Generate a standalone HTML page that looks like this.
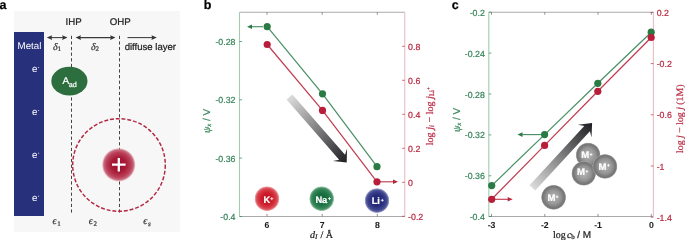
<!DOCTYPE html>
<html><head><meta charset="utf-8">
<style>
html,body{margin:0;padding:0;background:#fff;width:685px;height:240px;overflow:hidden}
svg{display:block;position:absolute;left:0;top:0;will-change:transform}
text{font-family:"Liberation Sans",sans-serif;text-rendering:geometricPrecision;stroke-width:0.22px}
.xt text{stroke-width:0.05px}
.serif{font-family:"Liberation Serif",serif}
</style></head>
<body>
<svg width="685" height="240" viewBox="0 0 685 240">
<defs>
  <radialGradient id="gK" cx="50%" cy="50%" r="50%"><stop offset="0" stop-color="#c40f1e" stop-opacity="1"/><stop offset="0.45" stop-color="#cc1c2a" stop-opacity="1"/><stop offset="0.72" stop-color="#d63a45" stop-opacity="1"/><stop offset="0.86" stop-color="#de5a63" stop-opacity="1"/><stop offset="0.95" stop-color="#ea9096" stop-opacity="0.8"/><stop offset="1" stop-color="#f6c8ca" stop-opacity="0.2"/></radialGradient>
<radialGradient id="gNa" cx="50%" cy="50%" r="50%"><stop offset="0" stop-color="#116638" stop-opacity="1"/><stop offset="0.45" stop-color="#1a7041" stop-opacity="1"/><stop offset="0.72" stop-color="#2f8253" stop-opacity="1"/><stop offset="0.86" stop-color="#4b946a" stop-opacity="1"/><stop offset="0.95" stop-color="#86b99a" stop-opacity="0.8"/><stop offset="1" stop-color="#c8e0d0" stop-opacity="0.2"/></radialGradient>
<radialGradient id="gLi" cx="50%" cy="50%" r="50%"><stop offset="0" stop-color="#1e2370" stop-opacity="1"/><stop offset="0.45" stop-color="#262c7a" stop-opacity="1"/><stop offset="0.72" stop-color="#3b418a" stop-opacity="1"/><stop offset="0.86" stop-color="#565c9e" stop-opacity="1"/><stop offset="0.95" stop-color="#9094c2" stop-opacity="0.8"/><stop offset="1" stop-color="#d0d2e6" stop-opacity="0.2"/></radialGradient>
<radialGradient id="gM" cx="50%" cy="50%" r="50%"><stop offset="0" stop-color="#b2b2b2" stop-opacity="1"/><stop offset="0.3" stop-color="#a7a7a7" stop-opacity="1"/><stop offset="0.6" stop-color="#929292" stop-opacity="1"/><stop offset="0.8" stop-color="#7a7a7a" stop-opacity="1"/><stop offset="0.9" stop-color="#777777" stop-opacity="1"/><stop offset="0.96" stop-color="#999999" stop-opacity="0.8"/><stop offset="1" stop-color="#d0d0d0" stop-opacity="0.3"/></radialGradient>
  <radialGradient id="gC" cx="50%" cy="50%" r="50%">
    <stop offset="0" stop-color="#9c0a28"/>
    <stop offset="0.45" stop-color="#a81c38"/>
    <stop offset="0.75" stop-color="#b94058"/>
    <stop offset="0.9" stop-color="#c96a7e"/>
    <stop offset="1" stop-color="#e2a8b4" stop-opacity="0.5"/>
  </radialGradient>
  <linearGradient id="arrB" gradientUnits="userSpaceOnUse" x1="289" y1="97" x2="347" y2="163">
    <stop offset="0" stop-color="#dcdcdc"/>
    <stop offset="1" stop-color="#1e1e22"/>
  </linearGradient>
  <linearGradient id="arrC" gradientUnits="userSpaceOnUse" x1="532" y1="188" x2="592" y2="123">
    <stop offset="0" stop-color="#dcdcdc"/>
    <stop offset="1" stop-color="#1e1e22"/>
  </linearGradient>
</defs>

<!-- ============ PANEL A ============ -->
<text x="-0.5" y="8.8" font-size="12.5" font-weight="bold" fill="#000" stroke="#000">a</text>
<rect x="14" y="11" width="166" height="221" fill="#f7f7f7"/>
<rect x="14" y="32" width="30" height="184" fill="#27307b"/>
<text x="17.6" y="48.5" font-size="9.7" fill="#fff" stroke="none">Metal</text>
<g font-size="9.7" fill="#fff" stroke="none">
  <text x="31.9" y="72.15" stroke="none">e</text><rect x="38.0" y="66.95" width="1.1" height="0.8" fill="#fff" opacity="0.85"/>
  <text x="31.9" y="115.30" stroke="none">e</text><rect x="38.0" y="110.10" width="1.1" height="0.8" fill="#fff" opacity="0.85"/>
  <text x="31.9" y="158.00" stroke="none">e</text><rect x="38.0" y="152.80" width="1.1" height="0.8" fill="#fff" opacity="0.85"/>
  <text x="31.9" y="201.00" stroke="none">e</text><rect x="38.0" y="195.80" width="1.1" height="0.8" fill="#fff" opacity="0.85"/>
</g>
<text x="65.6" y="24.6" font-size="9.7" fill="#222" stroke="#222">IHP</text>
<text x="109.8" y="24.6" font-size="9.7" fill="#222" stroke="#222">OHP</text>
<text x="124.7" y="49.7" font-size="9.55" fill="#222" stroke="#222">diffuse layer</text>
<!-- arrows -->
<g stroke="#3a3a3a" stroke-width="1.05"><line x1="49" y1="37.6" x2="65.5" y2="37.6"/><line x1="78" y1="37.6" x2="113" y2="37.6"/><line x1="127.5" y1="37.6" x2="154" y2="37.6"/></g>
<path d="M46.8 37.6 L52.20 35.15 L51.40 37.6 L52.20 40.05 Z" fill="#333"/>
<path d="M67.5 37.6 L62.10 35.15 L62.90 37.6 L62.10 40.05 Z" fill="#333"/>
<path d="M75.6 37.6 L81.00 35.15 L80.20 37.6 L81.00 40.05 Z" fill="#333"/>
<path d="M115.5 37.6 L110.10 35.15 L110.90 37.6 L110.10 40.05 Z" fill="#333"/>
<path d="M156.8 37.6 L151.40 35.15 L152.20 37.6 L151.40 40.05 Z" fill="#333"/>
<!-- dashed lines -->
<g stroke="#444" stroke-width="1" stroke-dasharray="3.2 2.4">
  <line x1="71.5" y1="35.8" x2="71.5" y2="215"/>
  <line x1="119.5" y1="35.8" x2="119.5" y2="215"/>
</g>
<!-- A_ad -->
<ellipse cx="69.4" cy="81.1" rx="18.1" ry="14.4" fill="#2d6e3e"/>
<text x="62.6" y="84.4" font-size="10" fill="#fff" stroke="#fff">A</text>
<text x="68.8" y="86.5" font-size="7.2" fill="#fff" stroke="#fff">ad</text>
<!-- cation -->
<circle cx="119" cy="165" r="46.3" fill="none" stroke="#b32540" stroke-width="1.45" stroke-dasharray="3.9 1.9"/>
<circle cx="118.7" cy="164.8" r="16.6" fill="url(#gC)"/>
<path d="M112 164.7 H125.6 M118.8 158 V171.6" stroke="#fff" stroke-width="2.3"/>
<g font-size="10" fill="#333" class="serif" font-style="italic" stroke="#333">
  <text x="52.5" y="223.6" class="serif">ϵ</text><text x="57.2" y="225.5" font-size="7" font-style="normal" class="serif">1</text>
  <text x="88.8" y="223.6" class="serif">ϵ</text><text x="93.5" y="225.5" font-size="7" font-style="normal" class="serif">2</text>
  <text x="143.2" y="223.6" class="serif">ϵ</text><text x="147.9" y="225.5" font-size="7" class="serif">s</text>
</g>
<text x="53" y="49.8" font-size="10" fill="#333" class="serif" font-style="italic" stroke="#333">δ</text><text x="57.5" y="51" font-size="7" fill="#333" class="serif" stroke="#333">1</text>
<text x="91" y="49.8" font-size="10" fill="#333" class="serif" font-style="italic" stroke="#333">δ</text><text x="95.5" y="51" font-size="7" fill="#333" class="serif" stroke="#333">2</text>

<!-- ============ PANEL B ============ -->
<text x="203.8" y="9" font-size="12.5" font-weight="bold" fill="#000" stroke="#000">b</text>
<line x1="239.5" y1="12.2" x2="404.8" y2="12.2" stroke="#aaaaaa" stroke-width="1.1"/>
<line x1="239.5" y1="216.5" x2="404.8" y2="216.5" stroke="#aaaaaa" stroke-width="1.1"/>
<line x1="239.5" y1="12.2" x2="239.5" y2="216.5" stroke="#a2cbb0" stroke-width="1.1"/>
<line x1="404.8" y1="12.2" x2="404.8" y2="216.5" stroke="#eabcc5" stroke-width="1.1"/>
<path d="M267 12.2v2.6M267 216.5v-2.6M322.2 12.2v2.6M322.2 216.5v-2.6M377.3 12.2v2.6M377.3 216.5v-2.6" stroke="#666" stroke-width="0.7"/>
<path d="M239.5 41.5h2.6M239.5 99.8h2.6M239.5 158.1h2.6M239.5 216.5h2.6" stroke="#38855a" stroke-width="0.7"/>
<path d="M404.8 46.3h-2.6M404.8 80.3h-2.6M404.8 114.3h-2.6M404.8 148.3h-2.6M404.8 182.3h-2.6M404.8 216.3h-2.6" stroke="#bb2b44" stroke-width="0.7"/>
<g font-size="8.8" fill="#38855a" text-anchor="end" stroke="#38855a">
<text x="235.5" y="45.05">-0.28</text>
<text x="235.5" y="103.35">-0.32</text>
<text x="235.5" y="161.65">-0.36</text>
<text x="235.5" y="220.05">-0.4</text>
</g>
<g font-size="8.8" fill="#bb2b44" stroke="#bb2b44">
<text x="408.1" y="49.85">0.8</text>
<text x="408.1" y="83.85">0.6</text>
<text x="408.1" y="117.85">0.4</text>
<text x="408.1" y="151.85">0.2</text>
<text x="408.1" y="185.85">0</text>
<text x="408.1" y="219.85">-0.2</text>
</g>
<g font-size="8.7" fill="#1a1a1a" text-anchor="middle" font-weight="bold" stroke="#1a1a1a" class="xt">
<text x="267" y="228.4">6</text>
<text x="322.2" y="228.4">7</text>
<text x="377.3" y="228.4">8</text>
</g>
<!-- axis titles -->
<g transform="translate(210.1,120.9) rotate(-90)"><text x="0" y="0" font-size="10" fill="#38855a" text-anchor="middle" stroke="#38855a"><tspan class="serif" font-style="italic">ψ</tspan><tspan font-size="6.80" dy="1.20" class="serif" font-style="italic">x</tspan><tspan dy="-1.20"> / V</tspan></text></g>
<g transform="translate(432.6,116.2) rotate(-90)"><text x="0" y="0" font-size="10.1" fill="#bb2b44" text-anchor="middle" class="serif" stroke="#bb2b44">log <tspan font-style="italic">j</tspan><tspan font-size="6.87" dy="1.51" font-style="italic">i</tspan><tspan dy="-1.51"> − log </tspan><tspan font-style="italic">j</tspan><tspan font-size="6.87" dy="1.51">Li</tspan><tspan font-size="5.05" dy="-4.54">+</tspan></text></g>
<text x="310.1" y="237.6" font-size="10" fill="#222" class="serif" stroke="#222"><tspan font-style="italic">d</tspan><tspan font-size="7" dy="1.8" font-style="italic">I</tspan><tspan dy="-1.8" dx="0.6"> / Å</tspan></text>
<!-- gradient arrow -->
<path d="M286.51 99.52 L339.16 159.79 L332.77 160.99 L346.70 162.50 L347.08 148.49 L345.03 154.66 L292.39 94.38 Z" fill="url(#arrB)"/>
<!-- lines -->
<polyline points="267.2,26.7 322.5,93.8 377,166.7" fill="none" stroke="#4a9166" stroke-width="1.25"/>
<polyline points="267.2,44.5 322.5,110.4 377,181.8" fill="none" stroke="#c13e52" stroke-width="1.25"/>
<line x1="263" y1="26.7" x2="251" y2="26.7" stroke="#4a9166" stroke-width="1.15"/>
<path d="M247 26.7 L252 24.4 L252 29 Z" fill="#2e7b47"/>
<line x1="380" y1="181.8" x2="394" y2="181.8" stroke="#c13e52" stroke-width="1.15"/>
<path d="M398 181.8 L393 179.5 L393 184.1 Z" fill="#b4283c"/>
<g fill="#2a7a44">
  <circle cx="267.2" cy="26.7" r="3.6"/>
  <circle cx="322.5" cy="93.8" r="3.6"/>
  <circle cx="377" cy="166.7" r="3.6"/>
</g>
<g fill="#b81e3a">
  <circle cx="267.2" cy="44.5" r="3.6"/>
  <circle cx="322.5" cy="110.4" r="3.6"/>
  <circle cx="377" cy="181.8" r="3.6"/>
</g>
<circle cx="267" cy="198.7" r="12.6" fill="url(#gK)"/><text x="263.5" y="202.75" font-size="9.3" font-weight="bold" fill="#fff" stroke="#fff">K</text><path d="M270.25 198.7H273.35M271.8 197.15V200.25" stroke="#fff" stroke-width="0.85" opacity="0.95"/>
<circle cx="321.7" cy="198.7" r="12.6" fill="url(#gNa)"/><text x="315.4" y="202.75" font-size="9.3" font-weight="bold" fill="#fff" stroke="#fff">Na</text><path d="M328.05 198.6H330.95M329.5 197.15V200.05" stroke="#fff" stroke-width="0.85" opacity="0.95"/>
<circle cx="377" cy="200.6" r="12.6" fill="url(#gLi)"/><text x="371.7" y="204.4" font-size="9.3" font-weight="bold" fill="#fff" stroke="#fff">Li</text><path d="M380.80 200.3H383.80M382.3 198.80V201.80" stroke="#fff" stroke-width="0.85" opacity="0.95"/>
<!-- ============ PANEL C ============ -->
<text x="451.7" y="9.3" font-size="12.5" font-weight="bold" fill="#000" stroke="#000">c</text>
<line x1="488.8" y1="12.2" x2="653.4" y2="12.2" stroke="#aaaaaa" stroke-width="1.1"/>
<line x1="488.8" y1="216.5" x2="653.4" y2="216.5" stroke="#aaaaaa" stroke-width="1.1"/>
<line x1="488.8" y1="12.2" x2="488.8" y2="216.5" stroke="#a2cbb0" stroke-width="1.1"/>
<line x1="653.4" y1="12.2" x2="653.4" y2="216.5" stroke="#eabcc5" stroke-width="1.1"/>
<path d="M491.5 12.2v2.6M491.5 216.5v-2.6M544.8 12.2v2.6M544.8 216.5v-2.6M598 12.2v2.6M598 216.5v-2.6M651.3 12.2v2.6M651.3 216.5v-2.6" stroke="#666" stroke-width="0.7"/>
<path d="M488.8 12.2h2.6M488.8 53.1h2.6M488.8 94.0h2.6M488.8 134.9h2.6M488.8 175.8h2.6M488.8 216.5h2.6" stroke="#38855a" stroke-width="0.7"/>
<path d="M653.4 12.4h-2.6M653.4 63.6h-2.6M653.4 114.8h-2.6M653.4 166.0h-2.6M653.4 217.2h-2.6" stroke="#bb2b44" stroke-width="0.7"/>
<g font-size="8.8" fill="#38855a" text-anchor="end" stroke="#38855a">
<text x="484.8" y="15.75">-0.2</text>
<text x="484.8" y="56.65">-0.24</text>
<text x="484.8" y="97.55">-0.28</text>
<text x="484.8" y="138.45">-0.32</text>
<text x="484.8" y="179.35">-0.36</text>
<text x="484.8" y="220.05">-0.4</text>
</g>
<g font-size="8.8" fill="#bb2b44" stroke="#bb2b44">
<text x="656.7" y="15.95">0.2</text>
<text x="656.7" y="67.15">-0.2</text>
<text x="656.7" y="118.35">-0.6</text>
<text x="656.7" y="169.55">-1</text>
<text x="656.7" y="220.75">-1.4</text>
</g>
<g font-size="8.7" fill="#1a1a1a" text-anchor="middle" font-weight="bold" stroke="#1a1a1a" class="xt">
<text x="491.5" y="228.4">-3</text>
<text x="544.8" y="228.4">-2</text>
<text x="598" y="228.4">-1</text>
<text x="651.3" y="228.4">0</text>
</g>
<g transform="translate(460.1,119.9) rotate(-90)"><text x="0" y="0" font-size="10" fill="#38855a" text-anchor="middle" stroke="#38855a"><tspan class="serif" font-style="italic">ψ</tspan><tspan font-size="6.80" dy="1.20" class="serif" font-style="italic">x</tspan><tspan dy="-1.20"> / V</tspan></text></g>
<g transform="translate(682.5,118.75) rotate(-90)"><text x="0" y="0" font-size="9.8" fill="#bb2b44" text-anchor="middle" class="serif" stroke="#bb2b44">log <tspan font-style="italic">j</tspan> − log <tspan font-style="italic">j</tspan> (1M)</text></g>
<text x="552.9" y="237.6" font-size="10" fill="#222" stroke="#222"><tspan class="serif">log </tspan><tspan class="serif" font-style="italic" dx="-1.3">c</tspan><tspan class="serif" font-size="7" dy="1.5">b</tspan><tspan dy="-1.5" dx="-0.3"> / M</tspan></text>
<!-- gradient arrow -->
<path d="M535.23 190.41 L589.91 131.15 L591.54 137.42 L592.10 123.10 L577.87 124.80 L584.25 125.93 L529.57 185.19 Z" fill="url(#arrC)"/>
<!-- lines -->
<polyline points="491.7,185.6 544.6,134.6 597.8,83.3 651.2,32.2" fill="none" stroke="#4a9166" stroke-width="1.25"/>
<polyline points="491.7,199.3 544.6,145.4 597.8,91.3 651.2,37.5" fill="none" stroke="#c13e52" stroke-width="1.25"/>
<line x1="541" y1="134.6" x2="521" y2="134.6" stroke="#4a9166" stroke-width="1.15"/>
<path d="M517.5 134.6 L522.5 132.3 L522.5 136.9 Z" fill="#2e7b47"/>
<line x1="495" y1="199.3" x2="509" y2="199.3" stroke="#c13e52" stroke-width="1.15"/>
<path d="M512.7 199.3 L507.7 197 L507.7 201.6 Z" fill="#b4283c"/>
<g fill="#2a7a44">
  <circle cx="491.7" cy="185.6" r="3.6"/>
  <circle cx="544.6" cy="134.6" r="3.6"/>
  <circle cx="597.8" cy="83.3" r="3.6"/>
  <circle cx="651.2" cy="32.2" r="3.6"/>
</g>
<g fill="#b81e3a">
  <circle cx="491.7" cy="199.3" r="3.6"/>
  <circle cx="544.6" cy="145.4" r="3.6"/>
  <circle cx="597.8" cy="91.3" r="3.6"/>
  <circle cx="651.2" cy="37.5" r="3.6"/>
</g>
<circle cx="588.1" cy="155" r="12.5" fill="url(#gM)"/><text x="581.3" y="157.8" font-size="9.6" font-weight="bold" fill="#fff" stroke="#fff">M</text><path d="M589.75 154.5H592.45M591.1 153.15V155.85" stroke="#fff" stroke-width="0.85" opacity="0.95"/>
<circle cx="583.75" cy="173.4" r="12.4" fill="url(#gM)"/><text x="577.0" y="175.4" font-size="9.6" font-weight="bold" fill="#fff" stroke="#fff">M</text><path d="M585.55 171.4H588.25M586.9 170.05V172.75" stroke="#fff" stroke-width="0.85" opacity="0.95"/>
<circle cx="605" cy="166.4" r="12.5" fill="url(#gM)"/><text x="598.5" y="169.5" font-size="9.6" font-weight="bold" fill="#fff" stroke="#fff">M</text><path d="M607.15 165.3H609.85M608.5 163.95V166.65" stroke="#fff" stroke-width="0.85" opacity="0.95"/>
<circle cx="553.6" cy="197.3" r="12.6" fill="url(#gM)"/><text x="547.4" y="200.5" font-size="9.6" font-weight="bold" fill="#fff" stroke="#fff">M</text><path d="M555.70 196.8H558.50M557.1 195.40V198.20" stroke="#fff" stroke-width="0.85" opacity="0.95"/>
</svg>
</body></html>
